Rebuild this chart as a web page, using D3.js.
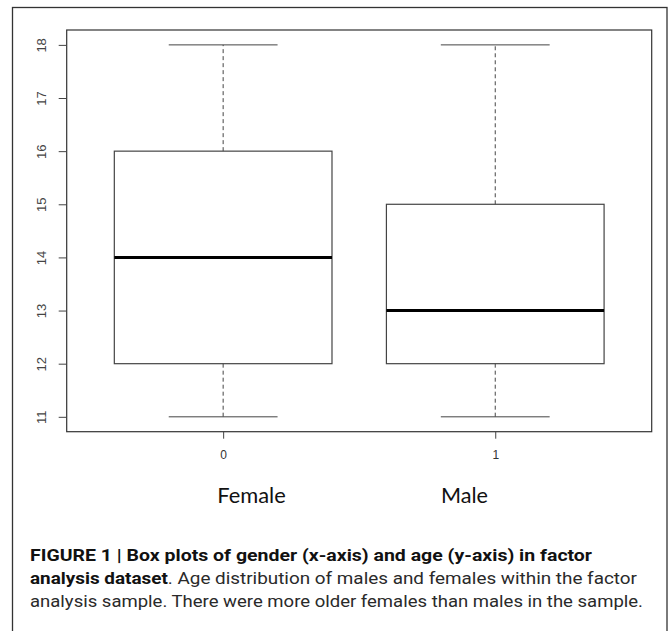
<!DOCTYPE html>
<html><head><meta charset="utf-8">
<script src="https://cdn.jsdelivr.net/npm/d3@7"></script>
<style>body{margin:0;background:#fff}svg{display:block}</style>
</head><body>
<script>
// Data
const groups = ["0", "1"];
const groupNames = ["Female", "Male"];
const mins = [11, 11];
const q1s = [12, 12];
const medians = [14, 13];
const q3s = [16, 15];
const maxs = [18, 18];
const yTicks = [11, 12, 13, 14, 15, 16, 17, 18];
const captionBold1 = "FIGURE 1 | Box plots of gender (x-axis) and age (y-axis) in factor";
const captionBold2 = "analysis dataset";
const captionRest2 = ". Age distribution of males and females within the factor";
const captionLine3 = "analysis sample. There were more older females than males in the sample.";

const W = 671, H = 631;
const svg = d3.select("body").append("svg").attr("width", W).attr("height", H);

// outer figure frame
svg.append("rect").attr("x", 12.5).attr("y", 7.5).attr("width", 654.5).attr("height", 640)
  .attr("fill", "none").attr("stroke", "#333").attr("stroke-width", 1.3);

const plot = {left: 66.7, right: 651.7, top: 30, bottom: 431.7};
const x = d3.scaleLinear().domain([0.425, 2.575]).range([plot.left, plot.right]);
const y = d3.scaleLinear().domain([10.72, 18.28]).range([plot.bottom, plot.top]);

const g = svg.append("g");
const ink = "#444";

// boxes
groups.forEach((grp, i) => {
  const cx = x(i + 1);
  const bw = x(i + 1.4) - x(i + 1);  // half box width
  const cw = x(i + 1.2) - x(i + 1);  // half cap width
  // whiskers
  g.append("line").attr("x1", cx).attr("x2", cx).attr("y1", y(q3s[i])).attr("y2", y(maxs[i]))
    .attr("stroke", ink).attr("stroke-width", 1).attr("stroke-dasharray", "4,3");
  g.append("line").attr("x1", cx).attr("x2", cx).attr("y1", y(q1s[i])).attr("y2", y(mins[i]))
    .attr("stroke", ink).attr("stroke-width", 1).attr("stroke-dasharray", "4,3");
  // caps
  [maxs[i], mins[i]].forEach(v => {
    g.append("line").attr("x1", cx - cw).attr("x2", cx + cw).attr("y1", y(v)).attr("y2", y(v))
      .attr("stroke", ink).attr("stroke-width", 1);
  });
  // box
  g.append("rect").attr("x", cx - bw).attr("y", y(q3s[i])).attr("width", 2 * bw)
    .attr("height", y(q1s[i]) - y(q3s[i]))
    .attr("fill", "none").attr("stroke", ink).attr("stroke-width", 1.2);
  // median
  g.append("line").attr("x1", cx - bw).attr("x2", cx + bw).attr("y1", y(medians[i])).attr("y2", y(medians[i]))
    .attr("stroke", "#000").attr("stroke-width", 3);
});

// plot frame
g.append("rect").attr("x", plot.left).attr("y", plot.top).attr("width", plot.right - plot.left)
  .attr("height", plot.bottom - plot.top).attr("fill", "none").attr("stroke", "#333").attr("stroke-width", 1.2);

// y axis
const yAxis = d3.axisLeft(y).tickValues(yTicks).tickSize(8).tickPadding(0).tickFormat(d3.format("d"));
const ya = svg.append("g").attr("transform", `translate(${plot.left},0)`).call(yAxis);
ya.select(".domain").remove();
ya.selectAll(".tick line").attr("stroke", ink);
ya.selectAll(".tick text").attr("transform", "rotate(-90)").attr("x", 0).attr("y", -25)
  .attr("dy", "0.35em").attr("text-anchor", "middle")
  .attr("font-family", "Liberation Sans, Arial, sans-serif").attr("font-size", 13).attr("fill", ink);

// x axis
const xAxis = d3.axisBottom(x).tickValues([1, 2]).tickSize(7).tickPadding(12).tickFormat((d, i) => groups[i]);
const xa = svg.append("g").attr("transform", `translate(0,${plot.bottom})`).call(xAxis);
xa.select(".domain").remove();
xa.selectAll(".tick line").attr("stroke", ink);
xa.selectAll(".tick text").attr("font-family", "Liberation Sans, Arial, sans-serif").attr("font-size", 12).attr("fill", "#333");

// group names
const nameX = [217.3, 441];
const nameW = [68.5, 47];
groupNames.forEach((n, i) => {
  svg.append("text").attr("x", nameX[i]).attr("y", 503.3)
    .attr("font-family", "Lato, 'Open Sans', sans-serif").attr("font-size", 21).attr("fill", "#111")
    .attr("textLength", nameW[i]).attr("lengthAdjust", "spacingAndGlyphs").text(n);
});

// caption
const capFont = "Roboto, 'Liberation Sans', Arial, sans-serif";
svg.append("text").attr("x", 30).attr("y", 561).attr("font-family", capFont).attr("font-size", 17)
  .attr("font-weight", "bold").attr("fill", "#111")
  .attr("textLength", 562).attr("lengthAdjust", "spacingAndGlyphs").text(captionBold1);
const l2 = svg.append("text").attr("x", 30).attr("y", 584).attr("font-family", capFont).attr("font-size", 17).attr("fill", "#2a2a2a")
  .attr("textLength", 607).attr("lengthAdjust", "spacingAndGlyphs");
l2.append("tspan").attr("font-weight", "bold").attr("fill", "#111").text(captionBold2);
l2.append("tspan").text(captionRest2);
svg.append("text").attr("x", 30).attr("y", 607).attr("font-family", capFont).attr("font-size", 17)
  .attr("fill", "#2a2a2a").attr("textLength", 613).attr("lengthAdjust", "spacingAndGlyphs").text(captionLine3);
</script>
</body></html>
